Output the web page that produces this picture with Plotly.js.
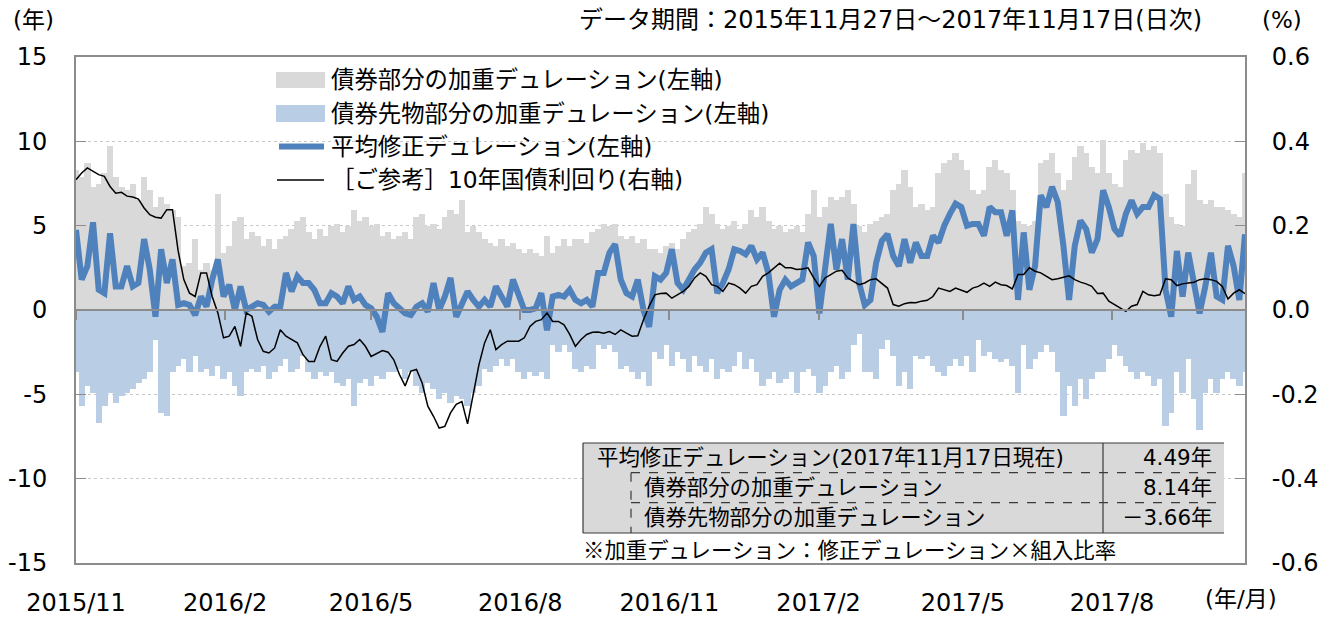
<!DOCTYPE html>
<html><head><meta charset="utf-8">
<script src="https://cdn.plot.ly/plotly-3.0.1.min.js"></script>
<style>html,body{margin:0;padding:0;background:#fff}#chart{width:1333px;height:619px}</style>
</head><body><div id="chart"></div>
<script>
// ---- data (sampled every 3.5 days from 2015-11-27 to 2017-11-17) ----
const startDate = '2015-11-27';
const endDate = '2017-11-17';
const stepDays = 3.5;

const bondDuration = [
 8.3,7.9,8.7,7.3,7.5,8.1,9.7,7.9,7.3,7.1,
 7.5,6.5,7.9,7.1,6.1,6.7,6.3,5.9,5.5,2.6,
 2.8,4.2,2.4,2.8,2.4,6.9,3.4,3.8,5.3,5.5,
 4.2,4.6,4.4,3.8,4.2,3.6,4.2,4.4,4.8,5.3,
 5.5,4.6,4.2,4.8,4.4,5.0,5.1,4.6,5.0,5.9,
 5.3,5.5,5.0,5.1,4.4,4.6,4.2,4.4,4.6,4.2,
 5.5,5.7,5.0,5.1,4.8,5.5,5.9,5.7,6.5,4.6,
 5.0,4.6,4.2,4.0,3.8,4.2,3.8,4.0,3.6,3.4,
 3.6,3.4,3.2,4.4,3.4,3.8,4.2,3.8,4.2,4.2,
 4.0,4.6,4.8,5.1,5.0,5.1,4.4,4.2,4.4,4.0,
 4.2,3.6,3.6,3.4,3.8,4.0,3.6,4.2,4.6,4.8,
 5.1,6.1,5.7,5.1,4.8,5.0,5.3,4.8,5.1,5.9,
 5.5,6.1,5.3,4.8,5.0,4.6,4.8,5.0,4.6,5.7,
 7.1,5.5,6.1,6.7,6.5,6.7,7.1,6.3,5.0,4.6,
 5.1,5.3,5.5,5.7,7.1,7.5,8.3,7.3,6.1,6.3,
 5.9,6.1,8.1,8.7,8.9,9.3,8.9,8.3,7.1,6.9,
 7.1,8.5,8.9,8.3,8.1,7.1,5.3,5.1,5.0,5.3,
 8.7,8.9,9.3,8.1,7.1,7.7,9.1,9.7,9.3,8.5,
 8.1,10.1,8.1,7.5,7.3,8.9,9.5,9.3,9.9,9.5,
 9.7,9.3,6.9,5.5,5.1,5.0,7.5,8.3,6.5,6.3,
 6.5,6.1,6.1,5.9,5.7,5.5,8.14
];
const futuresDuration = [
 -3.7,-5.7,-4.5,-4.9,-6.7,-5.7,-4.9,-5.5,-5.1,-4.9,
 -4.7,-4.3,-4.1,-3.7,-1.8,-6.1,-6.3,-3.7,-3.3,-2.9,
 -3.7,-2.7,-3.7,-3.5,-3.9,-3.3,-4.1,-3.7,-4.5,-5.1,
 -3.7,-3.5,-3.7,-3.3,-4.1,-3.7,-3.3,-2.9,-3.7,-3.5,
 -2.7,-3.7,-4.1,-3.7,-3.9,-3.7,-4.3,-4.5,-4.1,-5.7,
 -4.3,-4.1,-4.5,-3.9,-4.1,-3.7,-3.7,-3.5,-4.1,-3.7,
 -4.5,-4.9,-4.3,-4.7,-5.3,-4.9,-5.5,-5.1,-5.3,-5.7,
 -4.9,-4.5,-3.5,-3.7,-3.3,-2.9,-3.3,-2.9,-3.7,-4.1,
 -3.7,-3.9,-3.7,-4.1,-2.1,-2.5,-2.1,-2.5,-3.5,-3.7,
 -3.3,-3.5,-2.1,-2.3,-2.1,-2.5,-3.5,-3.3,-3.7,-4.1,
 -3.7,-4.5,-2.5,-2.9,-2.1,-3.3,-2.5,-2.9,-3.7,-2.7,
 -3.3,-3.7,-2.9,-4.1,-3.5,-3.7,-3.3,-2.5,-3.5,-2.9,
 -3.7,-4.5,-4.1,-3.7,-4.3,-4.1,-3.7,-4.9,-3.7,-3.5,
 -3.9,-4.9,-4.5,-3.7,-3.3,-4.1,-3.7,-2.1,-1.4,-3.7,
 -3.7,-4.1,-2.3,-1.8,-2.7,-4.5,-3.7,-4.7,-2.7,-2.9,
 -2.7,-3.3,-3.7,-3.9,-3.3,-2.9,-3.3,-2.7,-3.7,-1.8,
 -2.7,-2.5,-2.9,-3.1,-2.9,-3.3,-4.9,-2.1,-3.5,-2.9,
 -2.5,-2.1,-2.5,-3.7,-6.3,-4.5,-5.7,-4.1,-5.3,-4.1,
 -3.7,-3.7,-2.9,-2.1,-2.7,-3.3,-3.7,-4.1,-3.7,-3.9,
 -4.5,-4.1,-6.9,-6.1,-3.7,-4.9,-2.9,-5.3,-7.1,-4.9,
 -4.1,-4.9,-4.1,-3.7,-4.1,-4.5,-3.66
];
const avgDuration = [
 4.75,1.8,2.6,5.2,1.2,1.0,4.55,1.4,1.4,2.6,
 1.4,1.6,4.2,2.4,-0.4,3.6,1.6,3.0,0.3,0.4,
 0.3,-0.3,0.8,0.2,1.8,3.0,0.8,1.5,0.0,1.4,
 0.0,0.2,0.4,0.3,-0.1,0.2,0.2,2.2,1.1,2.0,
 1.6,1.6,1.2,0.4,0.4,1.0,0.8,0.4,1.4,0.6,
 0.8,0.3,0.1,-0.4,-1.3,1.0,0.4,0.1,-0.2,-0.3,
 0.2,0.4,-0.1,1.6,0.0,0.8,1.9,-0.4,0.4,1.1,
 0.6,0.2,0.6,0.2,1.4,0.8,0.2,1.8,0.8,0.0,
 0.0,0.1,1.0,-1.2,0.8,0.9,0.8,1.2,0.6,0.4,
 0.6,0.2,2.2,2.2,3.4,3.9,1.8,1.0,0.8,1.8,
 0.0,-1.0,2.0,1.8,2.2,3.6,1.6,1.2,1.8,2.4,
 2.8,3.4,3.6,1.0,1.6,2.4,3.6,3.5,3.3,3.8,
 3.0,3.4,2.2,-0.4,1.2,1.8,1.4,1.6,1.8,4.0,
 3.2,-0.2,2.4,5.1,2.4,4.2,1.8,5.1,1.6,0.3,
 0.6,2.8,4.1,4.5,3.2,2.6,4.2,2.8,4.0,3.2,
 3.2,4.4,4.0,5.0,5.7,6.3,6.1,5.0,5.1,5.1,
 4.4,6.1,5.8,5.8,4.4,5.9,0.6,4.6,1.2,2.6,
 6.8,6.1,7.3,6.4,3.8,0.6,3.8,5.3,4.8,3.4,
 4.2,7.1,6.1,4.8,4.4,5.7,6.5,5.7,6.1,6.1,
 6.8,6.6,1.2,-0.4,3.5,0.8,3.4,1.4,-0.2,1.4,
 3.4,0.8,0.6,3.8,2.6,0.6,4.49
];
const jgb10y = [
 0.309,0.325,0.337,0.329,0.321,0.317,0.293,0.277,0.279,0.270,
 0.268,0.263,0.242,0.226,0.22,0.218,0.238,0.238,0.14,0.072,
 0.04,0.032,0.088,0.088,0.032,-0.007,-0.066,-0.062,-0.039,-0.086,
 -0.007,-0.015,-0.07,-0.098,-0.102,-0.09,-0.047,-0.062,-0.07,-0.078,
 -0.106,-0.122,-0.122,-0.086,-0.062,-0.118,-0.122,-0.102,-0.086,-0.082,
 -0.07,-0.086,-0.11,-0.102,-0.096,-0.10,-0.118,-0.153,-0.18,-0.145,
 -0.141,-0.173,-0.228,-0.252,-0.28,-0.276,-0.244,-0.224,-0.217,-0.27,
 -0.197,-0.13,-0.078,-0.047,-0.094,-0.082,-0.074,-0.074,-0.074,-0.066,
 -0.039,-0.027,-0.023,-0.007,-0.027,-0.027,-0.035,-0.058,-0.086,-0.07,
 -0.058,-0.053,-0.052,-0.055,-0.051,-0.058,-0.047,-0.055,-0.062,-0.061,
 -0.023,0.009,0.036,0.039,0.04,0.028,0.036,0.044,0.056,0.076,
 0.088,0.08,0.06,0.056,0.044,0.064,0.06,0.052,0.04,0.056,
 0.06,0.08,0.088,0.10,0.111,0.10,0.10,0.096,0.097,0.10,
 0.076,0.056,0.076,0.084,0.092,0.094,0.076,0.068,0.06,0.064,
 0.072,0.074,0.064,0.052,0.013,0.009,0.015,0.018,0.017,0.021,
 0.023,0.032,0.052,0.048,0.044,0.052,0.047,0.042,0.052,0.056,
 0.064,0.056,0.066,0.06,0.058,0.05,0.084,0.084,0.10,0.092,
 0.088,0.081,0.072,0.074,0.078,0.081,0.072,0.066,0.062,0.056,
 0.039,0.04,0.021,0.013,0.005,-0.003,0.009,0.013,0.044,0.036,
 0.034,0.036,0.074,0.072,0.058,0.062,0.064,0.066,0.072,0.074,
 0.072,0.068,0.056,0.026,0.040,0.048,0.039
];

const tickDates = ['2015-11-27','2016-02-27','2016-05-27','2016-08-27','2016-11-27','2017-02-27','2017-05-27','2017-08-27'];
const tickLabels = ['2015/11','2016/2','2016/5','2016/8','2016/11','2017/2','2017/5','2017/8'];
const leftTicks = [15,10,5,0,-5,-10,-15];
const leftLabels = ['15','10','5','0','-5','-10','-15'];
const rightTicks = [0.6,0.4,0.2,0,-0.2,-0.4,-0.6];
const rightLabels = ['0.6','0.4','0.2','0.0','-0.2','-0.4','-0.6'];
const seriesNames = ['債券部分の加重デュレーション(左軸)','債券先物部分の加重デュレーション(左軸)','平均修正デュレーション(左軸)','［ご参考］10年国債利回り(右軸)'];
const tableRows = [
  ['平均修正デュレーション(2017年11月17日現在)','4.49年'],
  ['債券部分の加重デュレーション','8.14年'],
  ['債券先物部分の加重デュレーション','－3.66年']
];
const footnote = '※加重デュレーション：修正デュレーション×組入比率';
const titleText = 'データ期間：2015年11月27日～2017年11月17日(日次)';

// ---- build ----
const DAY = 86400000;
const t0 = Date.parse(startDate + 'T00:00:00Z');
const xs = bondDuration.map((_, i) => t0 + i * stepDays * DAY);
const barW = stepDays * DAY * 1.12;

const FONT = "'DejaVu Sans', 'Noto Sans CJK JP', sans-serif";
const CJK = "'Noto Sans CJK JP'";
const C_GRAY = '#d9d9d9', C_LBLUE = '#b9cde5', C_BLUE = '#4f81bd', C_AX = '#8c8c8c';

const traces = [
  {type:'bar', x:xs, y:bondDuration, width:barW, name:seriesNames[0], marker:{color:C_GRAY, line:{width:0}}, showlegend:false, hoverinfo:'skip'},
  {type:'bar', x:xs, y:futuresDuration, width:barW, name:seriesNames[1], marker:{color:C_LBLUE, line:{width:0}}, showlegend:false, hoverinfo:'skip'},
  {type:'scatter', mode:'lines', x:xs, y:avgDuration, name:seriesNames[2], line:{color:C_BLUE, width:6}, showlegend:false},
  {type:'scatter', mode:'lines', x:xs, y:jgb10y, yaxis:'y2', name:seriesNames[3], line:{color:'#000', width:1.5}, showlegend:false},
  {type:'scatter', mode:'lines', x:[], y:[], xaxis:'x2', yaxis:'y', showlegend:false, hoverinfo:'skip'}
];

// plot area in px
const L = 76, R = 1245, T = 57, B = 563;
const px = v => (v - L) / (R - L);
const py = v => (B - v) / (B - T);

const shapes = [];
const annotations = [];
const txt = (text, x, y, size, xanchor) => ({text, x:px(x), y:py(y), xref:'paper', yref:'paper', showarrow:false, xanchor:xanchor||'left', yanchor:'middle', font:{family:FONT, size:size, color:'#000'}});
const cjkMarks = s => s.replace(/[※×]/g, c => '<span style="font-family:' + CJK + '">' + c + '</span>');

// legend
const legY = [80, 113.5, 146.5, 180];
shapes.push({type:'rect', xref:'paper', yref:'paper', x0:px(276), x1:px(325), y0:py(88), y1:py(72), fillcolor:C_GRAY, line:{width:0}, layer:'above'});
shapes.push({type:'rect', xref:'paper', yref:'paper', x0:px(276), x1:px(325), y0:py(122), y1:py(105), fillcolor:C_LBLUE, line:{width:0}, layer:'above'});
shapes.push({type:'line', xref:'paper', yref:'paper', x0:px(279), x1:px(324), y0:py(146.5), y1:py(146.5), line:{color:C_BLUE, width:6}, layer:'above'});
shapes.push({type:'line', xref:'paper', yref:'paper', x0:px(277), x1:px(324), y0:py(180), y1:py(180), line:{color:'#000', width:1.5}, layer:'above'});
seriesNames.forEach((n, i) => annotations.push(txt(n, 329, legY[i], 23.4)));

// table
const tL = 583, tR = 1224, tT = 443, tB = 533, tD = 1103, tI = 631;
const rowY = [443, 472.7, 502.7, 533];
shapes.push({type:'rect', xref:'paper', yref:'paper', x0:px(tL), x1:px(tR), y0:py(tB), y1:py(tT), fillcolor:C_GRAY, line:{width:0}, layer:'above'});
const ln = (x0,y0,x1,y1,dash) => shapes.push({type:'line', xref:'paper', yref:'paper', x0:px(x0), x1:px(x1), y0:py(y0), y1:py(y1), line:{color:'#3a3a3a', width:1.2, dash:dash||'solid'}, layer:'above'});
ln(tL, tT, tR, tT); ln(tL, tB, tR, tB); ln(tL, tT, tL, tB); ln(tD, tT, tD, tB);
ln(tI, rowY[1], tR, rowY[1], 'dash'); ln(tI, rowY[2], tR, rowY[2], 'dash'); ln(tI, rowY[1], tI, tB, 'dash');
const rowTextX = [595, 642, 642];
tableRows.forEach((r, i) => {
  const cy = (rowY[i] + rowY[i+1]) / 2;
  annotations.push(txt(r[0], rowTextX[i], cy, 21.4));
  annotations.push(txt(r[1], 1214, cy, 21.4, 'right'));
});
annotations.push(txt(cjkMarks(footnote), 581, 548, 21.4));

// titles / units
annotations.push(txt(titleText, 1204, 20, 24, 'right'));
annotations.push(txt('(年)', 33, 20, 23, 'center'));
annotations.push(txt('(%)', 1282, 20, 23, 'center'));
annotations.push(txt('(年/月)', 1241, 599, 23, 'center'));

const layout = {
  width:1333, height:619,
  margin:{l:L, r:1333-R, t:T, b:619-B, pad:0},
  paper_bgcolor:'#fff', plot_bgcolor:'#fff',
  font:{family:FONT, size:24, color:'#000'},
  barmode:'overlay', bargap:0,
  showlegend:false,
  xaxis:{type:'date', range:[startDate, endDate], tickvals:tickDates, ticktext:tickLabels,
         showgrid:false, zeroline:false, ticks:'', showline:true, mirror:true, linecolor:C_AX, linewidth:2,
         tickfont:{family:FONT, size:24, color:'#000'}, ticklabelstandoff:17},
  xaxis2:{type:'date', overlaying:'x', anchor:'free', position:0.5, range:[startDate, endDate], tickvals:tickDates,
          showticklabels:false, ticks:'outside', ticklen:9, tickwidth:2, tickcolor:C_AX,
          showline:true, linecolor:C_AX, linewidth:2, showgrid:false, zeroline:false, layer:'above traces'},
  yaxis:{range:[-15,15], tickvals:leftTicks, ticktext:leftLabels, showgrid:true, gridcolor:'#c8c8c8', griddash:'dot', gridwidth:1,
         zeroline:false, ticks:'inside', ticklen:10, tickcolor:C_AX, tickwidth:1.5, showline:true, linecolor:C_AX, linewidth:2,
         tickfont:{family:FONT, size:24, color:'#000'}, ticklabelstandoff:22},
  yaxis2:{range:[-0.6,0.6], overlaying:'y', side:'right', tickvals:rightTicks, ticktext:rightLabels, showgrid:false, zeroline:false,
          ticks:'inside', ticklen:10, tickcolor:C_AX, tickwidth:1.5, showline:true, linecolor:C_AX, linewidth:2,
          tickfont:{family:FONT, size:24, color:'#000'}, ticklabelstandoff:20},
  shapes:shapes, annotations:annotations
};

Plotly.newPlot('chart', traces, layout, {displayModeBar:false, staticPlot:true});
</script></body></html>
